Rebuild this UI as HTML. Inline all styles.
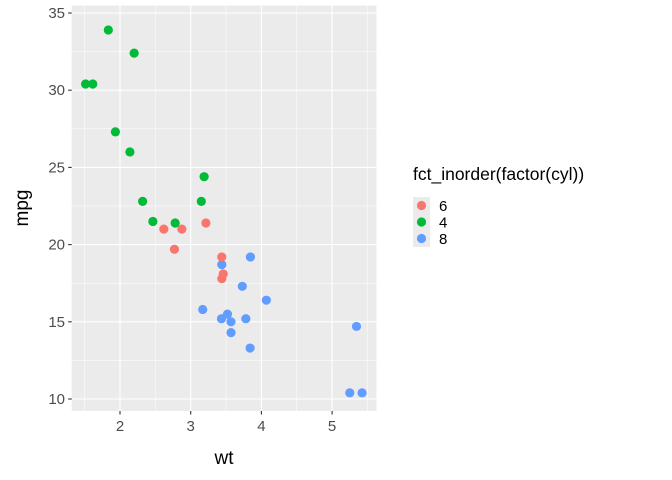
<!DOCTYPE html>
<html><head><meta charset="utf-8"><style>body{margin:0;background:#fff}svg{display:block;font-family:"Liberation Sans",Arial,sans-serif}</style></head>
<body>
<svg id="chart" width="672" height="480" viewBox="0 0 672 480">
<rect x="71.7" y="5.5" width="304.8" height="405.5" fill="#ebebeb"/>
<g id="grid"></g><g id="pts"></g><g id="ticks"></g>
<text x="224" y="464" font-size="19" text-anchor="middle" fill="#000">wt</text>
<text transform="translate(28,208) rotate(-90)" font-size="19" text-anchor="middle" fill="#000">mpg</text>
<g>
<text x="413" y="180" font-size="17.5" fill="#000">fct_inorder(factor(cyl))</text>
<g id="leg"></g></g>
</svg>
<script>
const wt=[2.620,2.875,2.320,3.215,3.440,3.460,3.570,3.190,3.150,3.440,3.440,4.070,3.730,3.780,5.250,5.424,5.345,2.200,1.615,1.835,2.465,3.520,3.435,3.840,3.845,1.935,2.140,1.513,3.170,2.770,3.570,2.780];
const mpg=[21.0,21.0,22.8,21.4,18.7,18.1,14.3,24.4,22.8,19.2,17.8,16.4,17.3,15.2,10.4,10.4,14.7,32.4,30.4,33.9,21.5,15.5,15.2,13.3,19.2,27.3,26.0,30.4,15.8,19.7,15.0,21.4];
const cyl=[6,6,4,6,8,6,8,4,4,6,6,8,8,8,8,8,8,4,4,4,4,8,8,8,8,4,4,4,8,6,8,4];
const levels=[6,4,8];
const colors=["#F8766D","#00BA38","#619CFF"];
const xTicks=[2,3,4,5];
const yTicks=[10,15,20,25,30,35];
const NS="http://www.w3.org/2000/svg";
const X=v=>120+(v-2)*70.7;
const Y=v=>399-(v-10)*15.44;
function mk(t,a,p){const e=document.createElementNS(NS,t);for(const k in a)e.setAttribute(k,a[k]);p.appendChild(e);return e;}
const grid=document.getElementById('grid'),ticks=document.getElementById('ticks');
xTicks.forEach((t,i)=>{
  let l=mk('line',{x1:X(t),x2:X(t),y1:5.5,y2:411,stroke:'#fff','stroke-width':1.1},grid);
  
  
  let m=mk('line',{x1:X(t-0.5),x2:X(t-0.5),y1:5.5,y2:411,stroke:'#fff','stroke-width':0.5},grid);
  
  
  if(i==xTicks.length-1){let m2=mk('line',{x1:X(t+0.5),x2:X(t+0.5),y1:5.5,y2:411,stroke:'#fff','stroke-width':0.5},grid);
  
  }
  mk('line',{x1:X(t),x2:X(t),y1:411,y2:414.5,stroke:'#333','stroke-width':1.1},ticks);
  let tx=mk('text',{x:X(t),y:431,'font-size':15,'text-anchor':'middle',fill:'#4d4d4d'},ticks);tx.textContent=t;
  
  
});
yTicks.forEach((t,i)=>{
  let l=mk('line',{x1:71.7,x2:376.5,y1:Y(t),y2:Y(t),stroke:'#fff','stroke-width':1.1},grid);
  
  
  if(i<yTicks.length-1){let m=mk('line',{x1:71.7,x2:376.5,y1:Y(t+2.5),y2:Y(t+2.5),stroke:'#fff','stroke-width':0.5},grid);
  
  }
  mk('line',{x1:68.2,x2:71.7,y1:Y(t),y2:Y(t),stroke:'#333','stroke-width':1.1},ticks);
  let tx=mk('text',{x:65,y:Y(t)+5,'font-size':15,'text-anchor':'end',fill:'#4d4d4d'},ticks);tx.textContent=t;
  
  
});
const pts=document.getElementById('pts');
wt.forEach((w,i)=>{
  let c=mk('circle',{cx:X(w),cy:Y(mpg[i]),r:4.6,fill:colors[levels.indexOf(cyl[i])]},pts);
  
  
});
const leg=document.getElementById('leg');
levels.forEach((lv,i)=>{
  const y=197+i*16.5;
  let r=mk('rect',{x:413,y:y,width:17,height:17,fill:'#ebebeb'},leg);
  
  
  mk('circle',{cx:421.5,cy:y+8.5,r:4.6,fill:colors[i]},leg);
  let t=mk('text',{x:439,y:y+14,'font-size':15,fill:'#000'},leg);t.textContent=lv;
  
  
});
</script>
</body></html>
